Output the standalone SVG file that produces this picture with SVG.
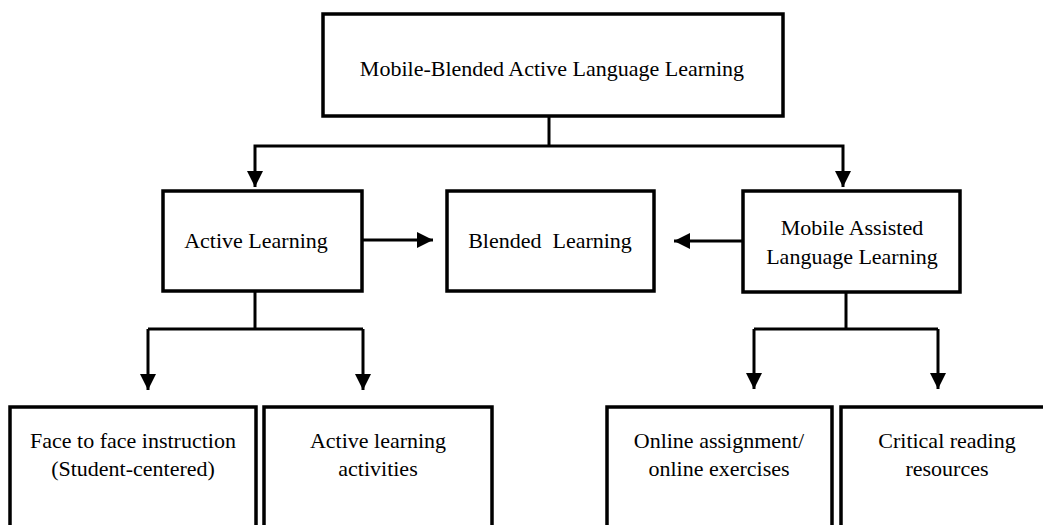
<svg xmlns="http://www.w3.org/2000/svg" width="1043" height="525" viewBox="0 0 1043 525">
<style>
.box{fill:#fff;stroke:#000;stroke-width:3.5}
.ln{fill:none;stroke:#000;stroke-width:3}
.t{font-family:'Liberation Serif','DejaVu Serif',serif;font-size:22px;fill:#000;text-anchor:middle}
</style>
<defs>
<marker id="ah" markerUnits="userSpaceOnUse" markerWidth="17" markerHeight="17" refX="16" refY="8" orient="auto" viewBox="0 0 17 17">
<path d="M0,0 L16,8 L0,16 z" fill="#000"/>
</marker>
</defs>
<rect width="1043" height="525" fill="#fff"/>
<g id="connectors">
<path class="ln" d="M549,116 V146"/>
<path class="ln" d="M549,146 H255 V187" marker-end="url(#ah)"/>
<path class="ln" d="M549,146 H843 V187" marker-end="url(#ah)"/>
<path class="ln" d="M362,240 H433" marker-end="url(#ah)"/>
<path class="ln" d="M743,241 H674" marker-end="url(#ah)"/>
<path class="ln" d="M255,291 V329"/>
<path class="ln" d="M148,329 H363"/>
<path class="ln" d="M148,329 V390" marker-end="url(#ah)"/>
<path class="ln" d="M363,329 V390" marker-end="url(#ah)"/>
<path class="ln" d="M846,292 V328"/>
<path class="ln" d="M754,329 H938"/>
<path class="ln" d="M754,329 V389" marker-end="url(#ah)"/>
<path class="ln" d="M938,329 V389" marker-end="url(#ah)"/>
</g>
<g id="top">
<rect class="box" x="323" y="14" width="460" height="102"/>
<text class="t" x="552" y="76">Mobile-Blended Active Language Learning</text>
</g>
<g id="active">
<rect class="box" x="163" y="191" width="199" height="100"/>
<text class="t" x="256" y="248">Active Learning</text>
</g>
<g id="blended">
<rect class="box" x="447" y="191" width="207" height="100"/>
<text class="t" x="550" y="248" xml:space="preserve">Blended  Learning</text>
</g>
<g id="mall">
<rect class="box" x="743" y="191" width="217" height="101"/>
<text class="t" x="852" y="235">Mobile Assisted</text>
<text class="t" x="852" y="264">Language Learning</text>
</g>
<g id="face">
<rect class="box" x="10" y="407" width="246" height="130"/>
<text class="t" x="133" y="448">Face to face instruction</text>
<text class="t" x="133" y="476">(Student-centered)</text>
</g>
<g id="alact">
<rect class="box" x="264" y="407" width="228" height="130"/>
<text class="t" x="378" y="448">Active learning</text>
<text class="t" x="378" y="476">activities</text>
</g>
<g id="online">
<rect class="box" x="607" y="407" width="225" height="130"/>
<text class="t" x="719" y="448">Online assignment/</text>
<text class="t" x="719" y="476">online exercises</text>
</g>
<g id="critical">
<rect class="box" x="841" y="407" width="220" height="130"/>
<text class="t" x="947" y="448">Critical reading</text>
<text class="t" x="947" y="476">resources</text>
</g>
</svg>
